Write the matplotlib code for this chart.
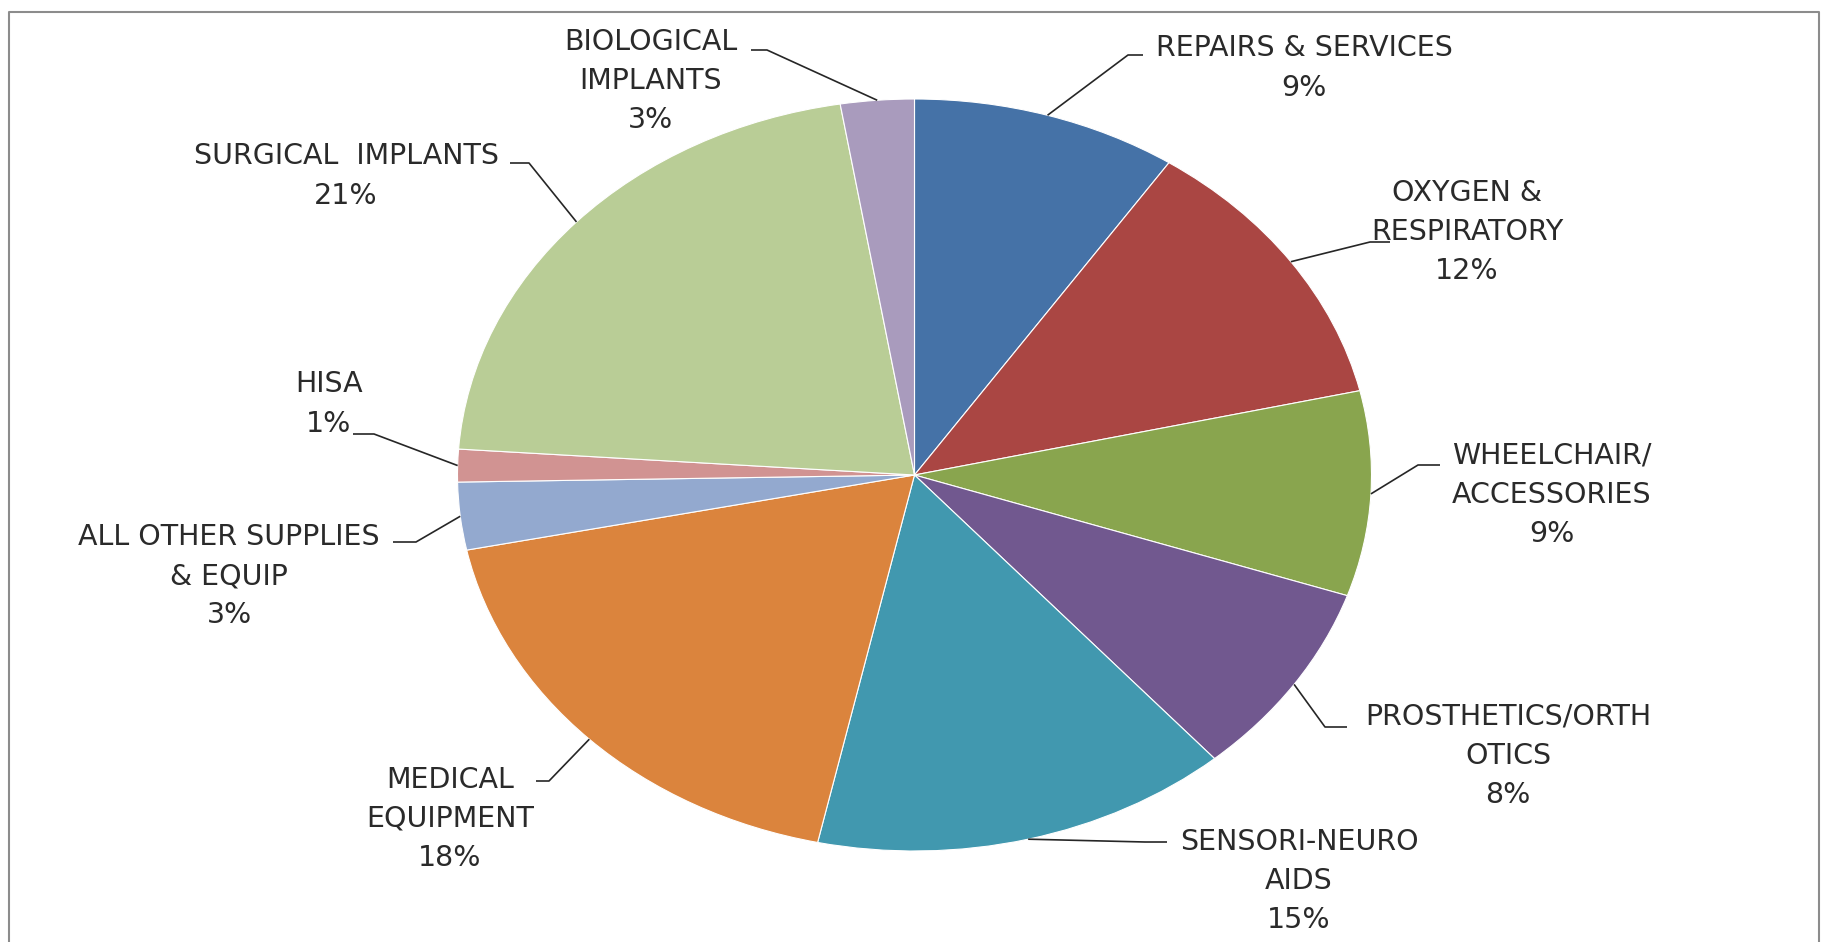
import numpy as np
import matplotlib
matplotlib.use('Agg')
from matplotlib import pyplot as plt
from matplotlib.lines import Line2D

# slice data, clockwise from 12 o'clock
categories = ['REPAIRS & SERVICES', 'OXYGEN &\nRESPIRATORY', 'WHEELCHAIR/\nACCESSORIES',
              'PROSTHETICS/ORTH\nOTICS', 'SENSORI-NEURO\nAIDS', 'MEDICAL\nEQUIPMENT',
              'ALL OTHER SUPPLIES\n& EQUIP', 'HISA', 'SURGICAL  IMPLANTS', 'BIOLOGICAL\nIMPLANTS']
shares = [9.4, 12.0, 8.8, 8.4, 14.8, 18.4, 2.9, 1.4, 21.3, 2.6]
colors = ['#4572A7', '#AA4643', '#89A54E', '#71588F', '#4198AF',
          '#DB843D', '#93A9CF', '#D19392', '#B9CD96', '#A99BBD']

# label layout in pixels of the 1823x942 image: text centre, leader end (near text), elbow
label_xy = [(1304, 68), (1467, 232), (1552, 495), (1508, 756), (1299, 881),
            (450, 819), (229, 576), (329, 404), (346, 176), (651, 81)]
leader_end = [(1143, 55), (1390, 242), (1440, 465), (1347, 727), (1167, 842),
              (536, 781), (393, 542), (353, 434), (510, 163), (751, 50)]
leader_elbow = [(1128, 55), (1370, 242), (1418, 465), (1325, 727), (1145, 842),
                (549, 781), (416, 542), (374, 434), (529, 163), (767, 50)]

W, H = 1823, 942
CX, CY, RX, RY = 914.5, 475, 457, 376


def px(x, y):
    return (x - CX) / RX, (CY - y) / RY


fig = plt.figure(figsize=(W / 100, H / 100), dpi=100)
ax = fig.add_axes([0, 0, 1, 1])
ax.pie(shares, colors=colors, startangle=90, counterclock=False,
       wedgeprops=dict(edgecolor='white', linewidth=0.8))
ax.set_aspect('auto')
ax.set_xlim(-CX / RX, (W - CX) / RX)
ax.set_ylim((CY - H) / RY, CY / RY)
ax.axis('off')

# leader lines + labels
total = sum(shares)
cum = 0
for i, (name, val) in enumerate(zip(categories, shares)):
    mid = 90 - (cum + val / 2) / total * 360
    cum += val
    ax_, ay_ = np.cos(np.radians(mid)), np.sin(np.radians(mid))
    ex, ey = px(*leader_end[i])
    bx, by = px(*leader_elbow[i])
    ax.plot([ex, bx, ax_], [ey, by, ay_], color='#262626', lw=1.2,
            solid_capstyle='butt', zorder=3)
    tx, ty = px(*label_xy[i])
    pct = f'{round(val / total * 100):.0f}%'
    ax.text(tx, ty, f'{name}\n{pct}', ha='center', va='center', fontsize=20.5,
            family='DejaVu Sans', color='#2a2a2a', linespacing=1.52)

# chart frame (bottom edge is cut off in the reference)
fig.add_artist(Line2D([9 / W, 9 / W, 1819 / W, 1819 / W], [0, 1 - 12 / H, 1 - 12 / H, 0],
                      transform=fig.transFigure, color='#8c8c8c', lw=1.5))

fig.savefig('out.png', dpi=100, facecolor='white')
